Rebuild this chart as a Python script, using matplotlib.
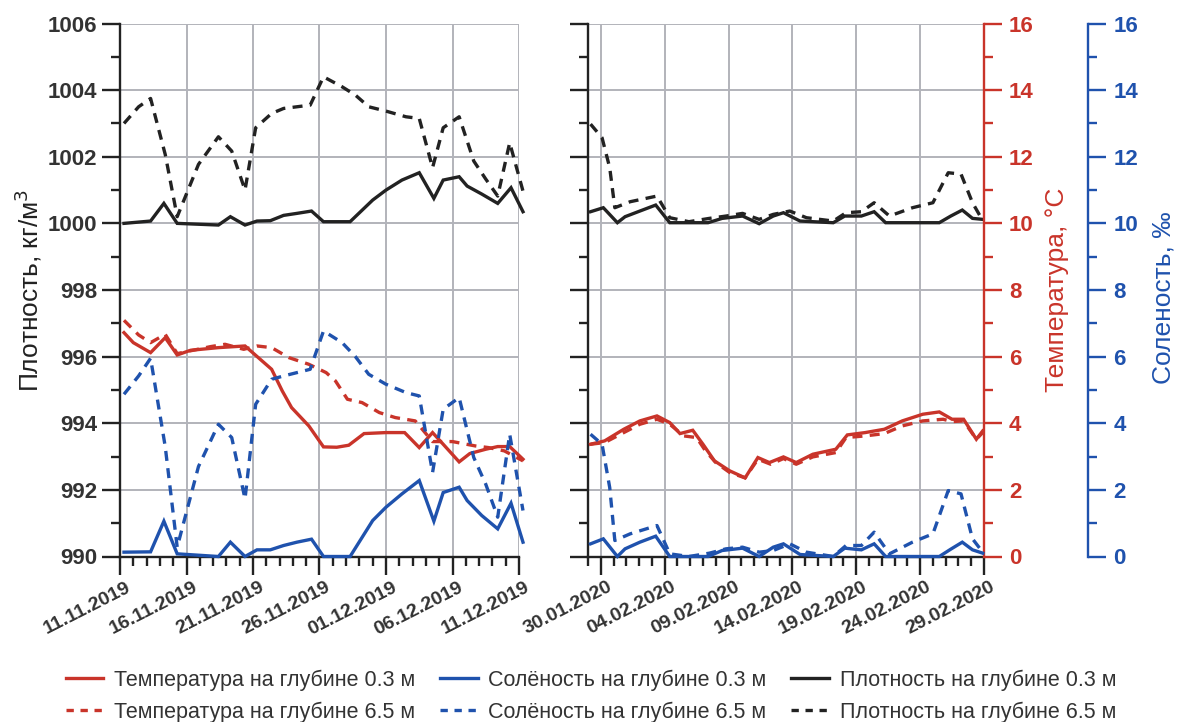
import matplotlib
matplotlib.use("Agg")
import matplotlib.pyplot as plt
from matplotlib.lines import Line2D
from matplotlib.ticker import FixedLocator, MultipleLocator
from matplotlib.transforms import ScaledTranslation

plt.rcParams['font.family'] = ['Liberation Sans', 'DejaVu Sans']

# ---------------- data ----------------
# Left panel: day offsets from 11.11.2019
nov_ticks = [0, 5, 10, 15, 20, 25, 30]
nov_labels = ['11.11.2019', '16.11.2019', '21.11.2019', '26.11.2019',
              '01.12.2019', '06.12.2019', '11.12.2019']

nov_surf_x = [0.3, 2.3, 3.3, 4.3, 7.4, 8.3, 9.4, 10.3, 11.3, 12.3, 13.3, 14.4, 15.3,
              17.3, 19.0, 20.0, 21.2, 22.5, 23.6, 24.3, 25.5, 26.1, 27.2, 28.4, 29.4, 30.3]
dens_surf_nov = [1000.0, 1000.07, 1000.6, 1000.0, 999.95, 1000.2, 999.95, 1000.07, 1000.08,
                 1000.24, 1000.3, 1000.37, 1000.05, 1000.05, 1000.7, 1001.0, 1001.3, 1001.52,
                 1000.75, 1001.3, 1001.4, 1001.12, 1000.88, 1000.6, 1001.07, 1000.35]
sal_surf_nov = [0.13, 0.14, 1.06, 0.08, 0.0, 0.43, 0.0, 0.2, 0.2, 0.33, 0.43, 0.52, 0.0,
                0.0, 1.08, 1.48, 1.88, 2.28, 1.06, 1.92, 2.08, 1.68, 1.23, 0.83, 1.6, 0.43]

nov_deep_x = [0.3, 1.4, 2.3, 3.4, 4.3, 5.9, 7.4, 8.4, 9.4, 10.2, 11.4, 12.3, 14.3, 15.3,
              16.7, 17.7, 18.7, 20.0, 21.5, 22.5, 23.5, 24.3, 25.5, 26.6, 27.5, 28.4, 29.3, 30.3]
dens_deep_nov = [1003.0, 1003.5, 1003.75, 1002.07, 1000.2, 1001.77, 1002.6, 1002.17, 1001.0,
                 1002.87, 1003.3, 1003.45, 1003.55, 1004.4, 1004.1, 1003.85, 1003.5, 1003.37,
                 1003.2, 1003.15, 1001.67, 1002.87, 1003.2, 1001.87, 1001.33, 1000.82,
                 1002.42, 1000.97]
sal_deep_nov = [4.87, 5.42, 5.95, 3.3, 0.28, 2.7, 3.97, 3.57, 1.73, 4.57, 5.32, 5.42, 5.62,
                6.77, 6.42, 6.0, 5.47, 5.17, 4.92, 4.82, 2.52, 4.42, 4.77, 2.97, 2.17, 1.18,
                3.67, 1.38]

nov_tsurf_x = [0.3, 1.0, 2.3, 3.4, 4.3, 5.3, 7.4, 9.4, 11.4, 12.2, 12.9, 14.2, 15.3, 16.3,
               17.2, 18.35, 20.0, 21.4, 22.5, 23.5, 24.3, 25.5, 26.3, 27.5, 28.4, 29.3, 30.3]
temp_surf_nov = [6.72, 6.42, 6.12, 6.57, 6.05, 6.19, 6.27, 6.32, 5.62, 4.97, 4.47, 3.92,
                 3.29, 3.28, 3.34, 3.69, 3.72, 3.72, 3.27, 3.72, 3.37, 2.84, 3.09, 3.22,
                 3.3, 3.3, 2.92]

nov_tdeep_x = [0.3, 1.4, 2.3, 3.4, 4.3, 5.6, 6.8, 7.9, 9.3, 10.3, 11.4, 12.7, 14.2, 15.5,
               16.2, 17.1, 18.2, 19.5, 20.7, 22.2, 23.5, 25.0, 26.7, 27.7, 28.9, 30.3]
temp_deep_nov = [7.09, 6.65, 6.42, 6.67, 6.09, 6.2, 6.3, 6.37, 6.22, 6.32, 6.27, 5.97, 5.77,
                 5.52, 5.27, 4.72, 4.62, 4.32, 4.17, 4.07, 3.45, 3.45, 3.32, 3.27, 3.17, 2.87]

# Right panel: day offsets from 29.01.2020
feb_ticks = [1, 6, 11, 16, 21, 26, 31]
feb_labels = ['30.01.2020', '04.02.2020', '09.02.2020', '14.02.2020',
              '19.02.2020', '24.02.2020', '29.02.2020']

feb_surf_x = [0.2, 1.2, 2.3, 2.9, 4.06, 5.3, 6.4, 9.4, 10.5, 12.1, 13.4, 14.5, 15.3, 16.6,
              19.2, 20.1, 21.4, 22.4, 23.3, 27.5, 28.4, 29.3, 30.1, 30.9]
dens_surf_feb = [1000.35, 1000.47, 1000.02, 1000.2, 1000.37, 1000.55, 1000.02, 1000.02,
                 1000.15, 1000.22, 999.99, 1000.22, 1000.32, 1000.07, 1000.02, 1000.22,
                 1000.22, 1000.35, 1000.02, 1000.02, 1000.22, 1000.4, 1000.15, 1000.12]
sal_surf_feb = [0.38, 0.53, 0.0, 0.23, 0.43, 0.61, 0.0, 0.0, 0.18, 0.25, 0.0, 0.28, 0.38,
                0.06, 0.0, 0.25, 0.2, 0.38, 0.0, 0.0, 0.22, 0.43, 0.2, 0.1]

feb_deep_x = [0.2, 1.1, 1.7, 2.1, 3.3, 5.4, 6.4, 7.9, 9.5, 10.8, 12.1, 13.4, 14.5, 15.8,
              17.1, 19.2, 20.2, 21.4, 22.4, 23.6, 25.4, 27.0, 28.2, 29.2, 30.1, 30.8]
dens_deep_feb = [1002.98, 1002.57, 1001.67, 1000.47, 1000.65, 1000.82, 1000.17, 1000.05,
                 1000.15, 1000.22, 1000.3, 1000.12, 1000.27, 1000.37, 1000.17, 1000.07,
                 1000.32, 1000.35, 1000.62, 1000.22, 1000.47, 1000.62, 1001.52, 1001.48,
                 1000.62, 1000.15]
sal_deep_feb = [3.67, 3.37, 2.07, 0.48, 0.68, 0.93, 0.08, 0.0, 0.1, 0.23, 0.28, 0.13, 0.18,
                0.38, 0.13, 0.0, 0.33, 0.33, 0.73, 0.08, 0.43, 0.68, 1.98, 1.88, 0.53, 0.18]

feb_tsurf_x = [0.2, 1.3, 2.8, 4.06, 5.4, 6.4, 7.2, 8.2, 9.0, 9.9, 11.1, 12.3, 13.3, 14.2,
               15.3, 16.3, 17.6, 19.4, 20.3, 21.7, 23.2, 24.6, 26.2, 27.5, 28.5, 29.4, 30.4, 30.9]
temp_surf_feb = [3.37, 3.47, 3.82, 4.07, 4.22, 4.02, 3.69, 3.79, 3.37, 2.87, 2.57, 2.36,
                 2.97, 2.82, 2.99, 2.82, 3.07, 3.22, 3.65, 3.72, 3.82, 4.07, 4.27, 4.34,
                 4.12, 4.12, 3.52, 3.77]
feb_tdeep_x = [0.2, 1.3, 2.8, 4.06, 5.4, 6.4, 7.5, 8.5, 9.2, 10.0, 11.1, 12.3, 13.3, 14.3,
               15.3, 16.3, 17.6, 19.4, 20.2, 21.7, 23.2, 24.6, 26.2, 27.8, 28.5, 29.4, 30.4, 30.9]
temp_deep_feb = [3.37, 3.42, 3.72, 3.97, 4.12, 3.97, 3.62, 3.57, 3.17, 2.82, 2.52, 2.36,
                 2.92, 2.77, 2.94, 2.77, 2.99, 3.12, 3.57, 3.62, 3.69, 3.92, 4.07, 4.12,
                 4.05, 4.07, 3.52, 3.72]

legend_labels = ['Температура на глубине 0.3 м', 'Температура на глубине 6.5 м',
                 'Солёность на глубине 0.3 м', 'Солёность на глубине 6.5 м',
                 'Плотность на глубине 0.3 м', 'Плотность на глубине 6.5 м']

# ---------------- style ----------------
RED = '#c9342a'
BLUE = '#1f52ad'
BLACK = '#222222'
GRID = '#b2b3ba'
LW = 2.4
DASH = (0, (3.0, 2.2))
YTICK_FS = 16
XTICK_FS = 14
SPINE_W = 1.7

W, H = 1179, 722
fig = plt.figure(figsize=(W / 100, H / 100), dpi=100)

bottom = 1 - 556.5 / H
height = 533 / H
ax1 = fig.add_axes([120 / W, bottom, 399 / W, height])
ax2 = fig.add_axes([588 / W, bottom, 396 / W, height])


def base_axis(ax, xlim, ticks, labels, show_ylabels):
    ax.set_xlim(*xlim)
    ax.set_ylim(990, 1006)
    for s in ['top', 'right']:
        ax.spines[s].set_visible(False)
    for s in ['left', 'bottom']:
        ax.spines[s].set_linewidth(SPINE_W)
        ax.spines[s].set_color(BLACK)
    ax.xaxis.set_major_locator(FixedLocator(ticks))
    ax.set_xticklabels(labels)
    ax.xaxis.set_minor_locator(MultipleLocator(1))
    ax.yaxis.set_major_locator(MultipleLocator(2))
    ax.yaxis.set_minor_locator(MultipleLocator(1))
    ax.tick_params(axis='both', which='major', length=13, width=SPINE_W,
                   color=BLACK, labelcolor='#333333', pad=3.5)
    ax.tick_params(axis='y', which='major', labelsize=YTICK_FS)
    ax.tick_params(axis='x', which='major', labelsize=XTICK_FS, pad=3)
    ax.tick_params(axis='both', which='minor', length=6.5, width=SPINE_W, color=BLACK)
    for lab in ax.get_xticklabels() + ax.get_yticklabels():
        lab.set_fontweight('bold')
    for lab in ax.get_xticklabels():
        lab.set_rotation(27)
        lab.set_ha('right')
        lab.set_va('top')
        lab.set_rotation_mode('anchor')
        lab.set_transform(lab.get_transform() +
                          ScaledTranslation(0.06, 0.0, fig.dpi_scale_trans))
    if not show_ylabels:
        ax.tick_params(axis='y', labelleft=False)
    ax.grid(True, which='major', color=GRID, lw=1.4)
    ax.set_axisbelow(True)


base_axis(ax1, (0, 30), nov_ticks, nov_labels, True)
base_axis(ax2, (0, 31), feb_ticks, feb_labels, False)

# twin axes for temperature / salinity
axT1 = ax1.twinx()
axS1 = ax1.twinx()
axT2 = ax2.twinx()
axS2 = ax2.twinx()
for a in (axT1, axS1, axT2, axS2):
    a.set_ylim(0, 16)
for a in (axT1, axS1):
    for s in a.spines.values():
        s.set_visible(False)
    a.set_yticks([])

for s in ['top', 'left', 'bottom']:
    axT2.spines[s].set_visible(False)
    axS2.spines[s].set_visible(False)
axT2.spines['right'].set_color(RED)
axT2.spines['right'].set_linewidth(SPINE_W)
axS2.spines['right'].set_color(BLUE)
axS2.spines['right'].set_linewidth(SPINE_W)
axS2.spines['right'].set_position(('outward', 75))
for a, c in ((axT2, RED), (axS2, BLUE)):
    a.yaxis.set_major_locator(MultipleLocator(2))
    a.yaxis.set_minor_locator(MultipleLocator(1))
    a.tick_params(axis='y', which='major', length=13, width=SPINE_W, color=c,
                  labelcolor=c, labelsize=YTICK_FS, pad=5)
    a.tick_params(axis='y', which='minor', length=6.5, width=SPINE_W, color=c)
    for lab in a.get_yticklabels():
        lab.set_fontweight('bold')

# ---------------- lines ----------------
kw = dict(lw=LW, clip_on=False, solid_joinstyle='miter')
ax1.plot(nov_surf_x, dens_surf_nov, color=BLACK, **kw)
ax1.plot(nov_deep_x, dens_deep_nov, color=BLACK, ls=DASH, **kw)
axT1.plot(nov_tsurf_x, temp_surf_nov, color=RED, **kw)
axT1.plot(nov_tdeep_x, temp_deep_nov, color=RED, ls=DASH, **kw)
axS1.plot(nov_surf_x, sal_surf_nov, color=BLUE, **kw)
axS1.plot(nov_deep_x, sal_deep_nov, color=BLUE, ls=DASH, **kw)

ax2.plot(feb_surf_x, dens_surf_feb, color=BLACK, **kw)
ax2.plot(feb_deep_x, dens_deep_feb, color=BLACK, ls=DASH, **kw)
axT2.plot(feb_tsurf_x, temp_surf_feb, color=RED, **kw)
axT2.plot(feb_tdeep_x, temp_deep_feb, color=RED, ls=DASH, **kw)
axS2.plot(feb_surf_x, sal_surf_feb, color=BLUE, **kw)
axS2.plot(feb_deep_x, sal_deep_feb, color=BLUE, ls=DASH, **kw)

# ---------------- labels ----------------
fig.text(28 / W, 1 - 290 / H, 'Плотность, кг/м$^3$', rotation=90, ha='center',
         va='center', fontsize=19, color=BLACK)
fig.text(1057 / W, 1 - 290 / H, 'Температура, °C', rotation=90, ha='center',
         va='center', fontsize=19, color=RED)
fig.text(1163 / W, 1 - 298 / H, 'Соленость, ‰', rotation=90, ha='center',
         va='center', fontsize=19, color=BLUE)

# ---------------- legend ----------------
LDASH = (0, (2.2, 2.0))
handles = [Line2D([], [], color=RED, lw=LW),
           Line2D([], [], color=RED, lw=LW, ls=LDASH),
           Line2D([], [], color=BLUE, lw=LW),
           Line2D([], [], color=BLUE, lw=LW, ls=LDASH),
           Line2D([], [], color=BLACK, lw=LW),
           Line2D([], [], color=BLACK, lw=LW, ls=LDASH)]
fig.legend(handles, legend_labels, ncol=3, loc='center', frameon=False,
           bbox_to_anchor=(591 / W, 1 - 696 / H), fontsize=15.5, handlelength=1.75,
           handletextpad=0.5, columnspacing=1.15, labelspacing=0.49,
           labelcolor='#333333', borderpad=0.2)

fig.savefig('out.png', dpi=100)
